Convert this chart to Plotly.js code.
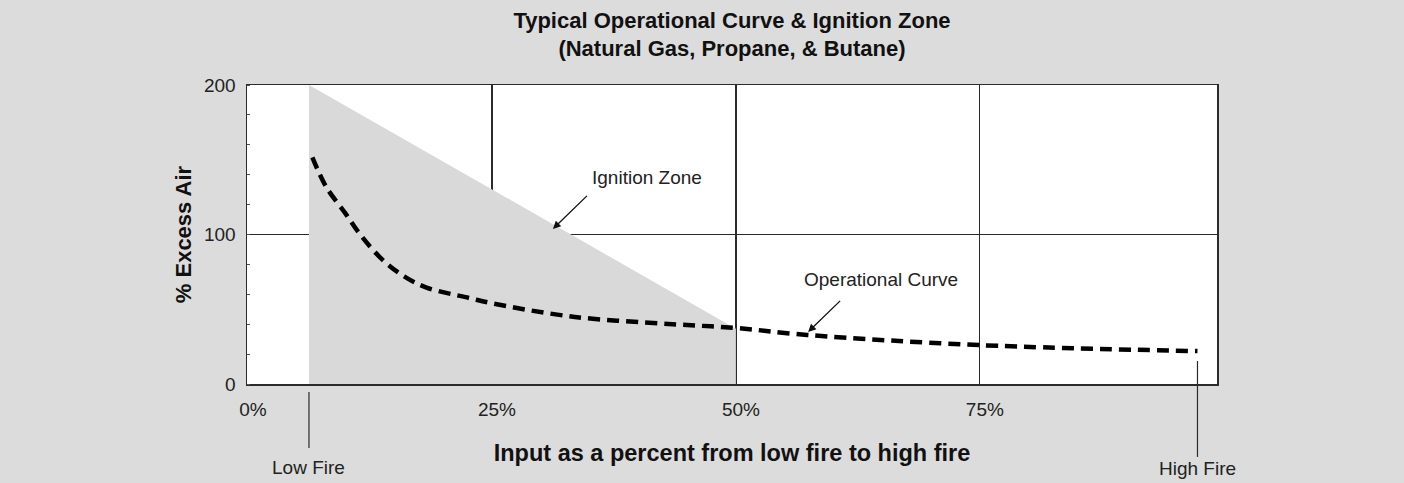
<!DOCTYPE html>
<html>
<head>
<meta charset="utf-8">
<script src="https://cdn.plot.ly/plotly-3.0.1.min.js"></script>
<style>html,body{margin:0;padding:0;background:#dcdcdc;}#chart{width:1404px;height:483px;}</style>
</head>
<body>
<div id="chart"></div>
<script>
// ---- data ----
const xTickVals = [0, 25, 50, 75];
const xTickText = ['0%', '25%', '50%', '75%'];
const yTickVals = [0, 100, 200];
const xRange = [-0.1, 99.3];
const yRange = [0, 200];

const lowFire = 6.25;
const highFire = 97.3;

// ignition zone outline (x in %, y in % excess air)
const zoneX = [6.25, 6.25, 50, 50];
const zoneY = [0, 200, 37, 0];

// operational curve
const opX = [6.6, 8, 10, 11.5, 13.8, 16, 18.3, 22.7, 25, 33.3, 43.5, 50, 57.3, 75, 97.3];
const opY = [151.6, 132, 114, 100, 83, 72, 64.5, 57.5, 54, 45, 40, 37.5, 32.8, 26, 22];

const ignitionLabel = {x: 40.9, y: 137.8, text: 'Ignition Zone', tipX: 31.25, tipY: 103.7};
const operLabel = {x: 64.9, y: 69.6, text: 'Operational Curve', tipX: 57.4, tipY: 34.8};

const FONT = 'Liberation Sans, Arial, sans-serif';
const GREY = '#dcdcdc';
const LINE = '#2b2b2b';

const traces = [
  {
    x: zoneX, y: zoneY, type: 'scatter', mode: 'lines',
    fill: 'toself', fillcolor: '#d9d9d9', line: {width: 0, color: 'rgba(0,0,0,0)'},
    hoverinfo: 'skip', showlegend: false
  },
  {
    x: opX, y: opY, type: 'scatter', mode: 'lines',
    line: {color: '#000', width: 4.5, dash: '12px,7px', shape: 'spline', smoothing: 1},
    showlegend: false
  }
];

const annFont = {family: FONT, size: 19, color: '#222'};

const layout = {
  width: 1404, height: 483,
  paper_bgcolor: GREY, plot_bgcolor: '#ffffff',
  margin: {l: 247, r: 187, t: 85, b: 99},
  showlegend: false,
  title: {
    text: '<b>Typical Operational Curve & Ignition Zone<br>(Natural Gas, Propane, & Butane)</b>',
    font: {family: FONT, size: 22, color: '#111'},
    x: 0.5, xanchor: 'center', xref: 'paper',
    y: 0.9424, yanchor: 'middle', yref: 'container'
  },
  xaxis: {
    range: xRange, tickvals: xTickVals, ticktext: xTickText,
    showgrid: true, gridcolor: LINE, gridwidth: 1.2,
    showline: true, linecolor: LINE, linewidth: 1.5, mirror: true,
    ticks: '', zeroline: false,
    ticklabelstandoff: 8, ticklabelshift: 5,
    tickfont: {family: FONT, size: 19, color: '#222'},
    title: {text: '<b>Input as a percent from low fire to high fire</b>',
            font: {family: FONT, size: 23.5, color: '#111'}, standoff: 25}
  },
  yaxis: {
    range: yRange, tickvals: yTickVals,
    showgrid: true, gridcolor: LINE, gridwidth: 1.2,
    showline: true, linecolor: LINE, linewidth: 1.5, mirror: true,
    ticks: '', zeroline: false,
    ticklabelstandoff: 6,
    tickfont: {family: FONT, size: 19, color: '#222'},
    minor: {dtick: 20, ticks: 'inside', ticklen: 3, tickcolor: '#555', tickwidth: 1, showgrid: false},
    title: {text: '<b>% Excess Air</b>', font: {family: FONT, size: 22, color: '#111'}, standoff: 6}
  },
  shapes: [
    {type: 'line', xref: 'x', yref: 'paper', x0: lowFire, x1: lowFire, y0: -0.027, y1: -0.214,
     line: {color: LINE, width: 1.2}},
    {type: 'line', xref: 'x', yref: 'paper', x0: highFire, x1: highFire, y0: 0.077, y1: -0.244,
     line: {color: LINE, width: 1.2}}
  ],
  annotations: [
    {x: ignitionLabel.x, y: ignitionLabel.y, xref: 'x', yref: 'y', text: ignitionLabel.text,
     showarrow: false, font: annFont},
    {x: ignitionLabel.tipX, y: ignitionLabel.tipY, xref: 'x', yref: 'y', text: ' ',
     showarrow: true, ax: 37, ay: -36, arrowhead: 2, arrowsize: 1.2, arrowwidth: 1.3, arrowcolor: '#111'},
    {x: operLabel.x, y: operLabel.y, xref: 'x', yref: 'y', text: operLabel.text,
     showarrow: false, font: annFont},
    {x: operLabel.tipX, y: operLabel.tipY, xref: 'x', yref: 'y', text: ' ',
     showarrow: true, ax: 35, ay: -34, arrowhead: 2, arrowsize: 1.2, arrowwidth: 1.3, arrowcolor: '#111'},
    {x: lowFire, y: -0.278, xref: 'x', yref: 'paper', text: 'Low Fire', showarrow: false,
     font: annFont, yanchor: 'middle'},
    {x: highFire, y: -0.281, xref: 'x', yref: 'paper', text: 'High Fire', showarrow: false,
     font: annFont, yanchor: 'middle'}
  ]
};

Plotly.newPlot('chart', traces, layout, {displayModeBar: false, staticPlot: true});
</script>
</body>
</html>
